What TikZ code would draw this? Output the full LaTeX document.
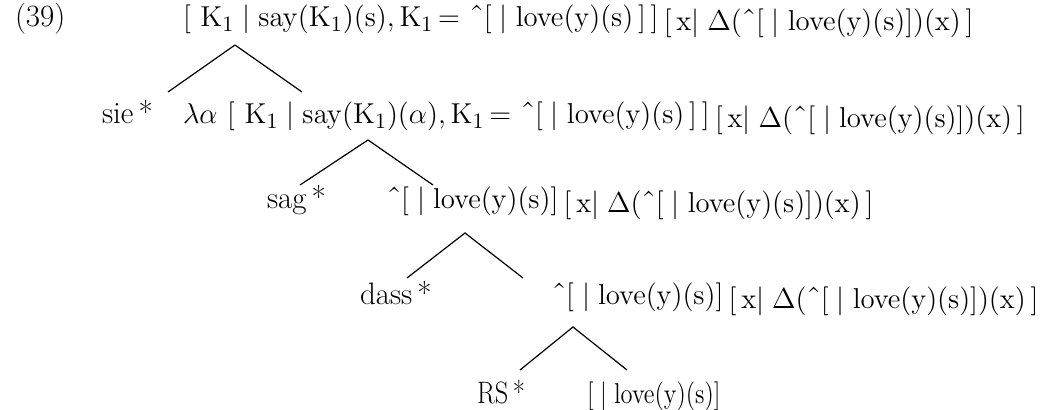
\documentclass[tikz,border=0pt]{standalone}
\newcommand\Kone{\mathrm{K}_1}
\newcommand\lov{\mathrm{love(y)(s)}}
\newcommand\crt{\mbox{\char"02C6}}
\newcommand\tail{\raisebox{-2pt}{$[\,\mathrm{x}|\;\Delta(\crt[\;|\;\lov])(\mathrm{x})\,]$}}
\begin{document}
\begin{tikzpicture}[x=0.5pt,y=-0.5pt,
  lbl/.style={inner sep=0pt, outer sep=0pt, anchor=base west, font=\fontsize{15.5}{18}\selectfont},
  branch/.style={line width=0.6pt}]
\useasboundingbox (0,0) rectangle (1048,410);
% row 1
\node[lbl] (ex) at (15,27) {(39)};
\node[lbl] (r1) at (183,27) {$[\,\,\Kone\;|\;\mathrm{say}(\Kone)(\mathrm{s}),\Kone\,{=}\,\,\crt[\;|\;\lov\,]\,]$\,\tail};
% row 2
\node[lbl] (sie) at (102,124) {sie\,*};
\node[lbl] (r2) at (183,124) {$\lambda\alpha\,\,[\,\,\Kone\;|\;\mathrm{say}(\Kone)(\alpha),\Kone\,{=}\,\,\crt[\;|\;\lov\,]\,]$\,\tail};
% row 3
\node[lbl] (sag) at (267,209) {sag\,*};
\node[lbl] (r3) at (387,209) {$\crt[\;|\;\lov]$\,\tail};
% row 4
\node[lbl] (dass) at (360,305) {dass\,*};
\node[lbl] (r4) at (552,305) {$\crt[\;|\;\lov]$\,\tail};
% row 5
\node[lbl] (rs) at (477,404) {\scalebox{0.85}[1]{RS\,*}};
\node[lbl] (r5) at (587,404) {\scalebox{0.85}[1]{$[\;|\;\lov]$}};
% branches
\coordinate (a1) at (235,45); \coordinate (l1) at (168,92); \coordinate (q1) at (302,92);
\coordinate (a2) at (368,140); \coordinate (l2) at (300,185); \coordinate (q2) at (433,185);
\coordinate (a3) at (465,233); \coordinate (l3) at (407,278); \coordinate (q3) at (523,278);
\coordinate (a4) at (573,327); \coordinate (l4) at (520,370); \coordinate (q4) at (627,370);
\draw[branch] (l1) -- (a1) -- (q1);
\draw[branch] (l2) -- (a2) -- (q2);
\draw[branch] (l3) -- (a3) -- (q3);
\draw[branch] (l4) -- (a4) -- (q4);
\end{tikzpicture}
\end{document}
